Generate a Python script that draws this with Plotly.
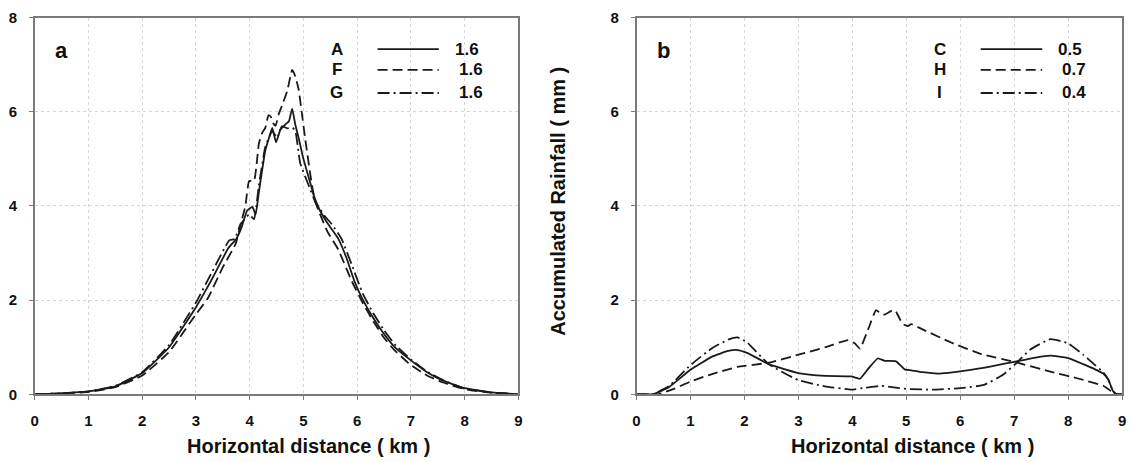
import plotly.graph_objects as go

# ---------------- data ----------------
# Panel a
a_A_x = [0, 0.5, 1.0, 1.5, 2.0, 2.5, 3.0, 3.3, 3.6, 3.75, 3.85, 3.95, 4.05, 4.11, 4.17, 4.23, 4.29, 4.36, 4.42, 4.49,
         4.57, 4.66, 4.73, 4.79, 4.85, 4.91, 5.0, 5.1, 5.2, 5.3, 5.4, 5.5, 5.65, 5.8, 5.95, 6.1, 6.3, 6.5, 6.7, 7.0,
         7.3, 7.6, 8.0, 8.5, 9.0]
a_A_y = [0.0, 0.02, 0.06, 0.17, 0.45, 1.0, 1.85, 2.45, 3.1, 3.3, 3.55, 3.9, 3.98, 3.82, 4.29, 4.75, 5.18, 5.45, 5.66, 5.35,
         5.62, 5.73, 5.8, 6.07, 5.72, 5.45, 5.0, 4.6, 4.2, 3.92, 3.72, 3.55, 3.3, 2.9, 2.4, 2.02, 1.62, 1.28, 1.0, 0.72,
         0.47, 0.29, 0.13, 0.04, 0.0]

a_F_x = [0, 0.5, 1.0, 1.5, 2.0, 2.5, 3.0, 3.22, 3.5, 3.74, 3.83, 3.92, 3.99, 4.08, 4.17, 4.23, 4.29, 4.35, 4.39, 4.44,
         4.48, 4.54, 4.6, 4.7, 4.79, 4.85, 4.91, 5.03, 5.16, 5.22, 5.3, 5.45, 5.65, 5.9, 6.1, 6.3, 6.5, 6.7, 7.0, 7.3,
         7.6, 8.0, 8.5, 9.0]
a_F_y = [0.0, 0.02, 0.05, 0.15, 0.4, 0.9, 1.7, 2.04, 2.7, 3.2, 3.61, 4.0, 4.53, 4.53, 5.32, 5.55, 5.66, 5.93, 5.9, 5.75,
         5.7, 5.95, 6.13, 6.45, 6.89, 6.75, 6.48, 5.45, 4.43, 4.09, 3.85, 3.45, 3.07, 2.4, 1.95, 1.55, 1.2, 0.93, 0.62, 0.4,
         0.25, 0.11, 0.03, 0.0]

a_G_x = [0, 0.5, 1.0, 1.5, 2.0, 2.5, 3.0, 3.3, 3.62, 3.72, 3.83, 3.99, 4.08, 4.17, 4.29, 4.42, 4.51, 4.6, 4.7, 4.8,
         4.85, 4.94, 5.1, 5.22, 5.3, 5.4, 5.53, 5.71, 5.9, 6.1, 6.3, 6.5, 6.7, 7.0, 7.3, 7.6, 8.0, 8.5, 9.0]
a_G_y = [0.0, 0.02, 0.06, 0.18, 0.47, 1.05, 1.95, 2.6, 3.27, 3.3, 3.61, 3.82, 3.72, 4.43, 5.25, 5.59, 5.45, 5.69, 5.65, 5.66,
         5.59, 4.91, 4.43, 4.09, 3.95, 3.78, 3.61, 3.3, 2.75, 2.15, 1.72, 1.36, 1.06, 0.74, 0.48, 0.3, 0.12, 0.04, 0.0]

# Panel b
b_C_x = [0, 0.3, 0.6, 1.0, 1.4, 1.7, 1.87, 2.05, 2.45, 3.0, 3.5, 3.98, 4.14, 4.3, 4.47, 4.6, 4.81, 4.97, 5.09, 5.3,
         5.58, 6.13, 6.6, 7.0, 7.4, 7.67, 8.0, 8.28, 8.5, 8.65, 8.75, 8.83, 8.9, 9.0]
b_C_y = [0, 0, 0.15, 0.52, 0.8, 0.92, 0.94, 0.88, 0.64, 0.45, 0.39, 0.38, 0.33, 0.55, 0.76, 0.71, 0.70, 0.53, 0.51, 0.47,
         0.44, 0.51, 0.6, 0.69, 0.78, 0.82, 0.77, 0.64, 0.53, 0.44, 0.3, 0.07, 0.0, 0.0]

b_H_x = [0, 0.4, 0.7, 1.0, 1.4, 1.87, 2.45, 3.0, 3.5, 3.92, 4.05, 4.14, 4.3, 4.44, 4.52, 4.6, 4.72, 4.79, 4.88, 4.94,
         5.03, 5.09, 5.3, 5.83, 6.4, 7.0, 7.67, 8.2, 8.65, 8.83, 8.9, 9.0]
b_H_y = [0, 0.0, 0.12, 0.27, 0.43, 0.58, 0.67, 0.84, 1.0, 1.15, 1.08, 0.97, 1.4, 1.79, 1.72, 1.69, 1.77, 1.79, 1.6, 1.49,
         1.45, 1.49, 1.38, 1.1, 0.85, 0.69, 0.48, 0.33, 0.18, 0.04, 0.0, 0.0]

b_I_x = [0, 0.3, 0.6, 1.0, 1.4, 1.7, 1.87, 2.05, 2.45, 3.0, 3.49, 3.98, 4.25, 4.53, 4.8, 5.03, 5.52, 6.0, 6.44, 6.8,
         7.0, 7.3, 7.67, 8.0, 8.28, 8.5, 8.65, 8.75, 8.83, 8.9, 9.0]
b_I_y = [0, 0, 0.17, 0.62, 0.98, 1.16, 1.21, 1.1, 0.64, 0.3, 0.17, 0.10, 0.14, 0.18, 0.14, 0.11, 0.10, 0.13, 0.2, 0.42,
         0.62, 0.95, 1.17, 1.08, 0.84, 0.62, 0.47, 0.3, 0.07, 0.0, 0.0]

a_names = ["A", "F", "G"]
a_values = ["1.6", "1.6", "1.6"]
b_names = ["C", "H", "I"]
b_values = ["0.5", "0.7", "0.4"]
panel_labels = ["a", "b"]
x_ticks = [0, 1, 2, 3, 4, 5, 6, 7, 8, 9]
y_ticks = [0, 2, 4, 6, 8]
x_title = "Horizontal distance ( km )"
y_title = "Accumulated Rainfall ( mm )"

# ---------------- styling ----------------
FONT = "Liberation Sans, Arial, Helvetica, sans-serif"
INK = "#1a1a1a"
DASHES = ["solid", "10px,5px", "12px,4px,2px,4px"]
W, H = 1137, 462

fig = go.Figure()

series = [
    ("x", "y", a_A_x, a_A_y, 0), ("x", "y", a_F_x, a_F_y, 1), ("x", "y", a_G_x, a_G_y, 2),
    ("x2", "y2", b_C_x, b_C_y, 0), ("x2", "y2", b_H_x, b_H_y, 1), ("x2", "y2", b_I_x, b_I_y, 2),
]
for xa, ya, xs, ys, k in series:
    fig.add_trace(go.Scatter(x=xs, y=ys, xaxis=xa, yaxis=ya, mode="lines",
                             line=dict(color=INK, width=1.8, dash=DASHES[k], shape="spline", smoothing=0.4),
                             showlegend=False, hoverinfo="skip"))

tickfont = dict(family=FONT, size=15, color="#111")
common = dict(showgrid=True, gridcolor="#d6d6d6", griddash="dot", gridwidth=1,
              showline=True, linecolor="#7a7a7a", linewidth=1.5, mirror=True,
              ticks="outside", ticklen=4, tickcolor="#7a7a7a", tickwidth=1.2,
              tickfont=tickfont, zeroline=False, fixedrange=True)
xt = dict(range=[0, 9], tickmode="array", tickvals=x_ticks, ticktext=[f"<b>{v}</b>" for v in x_ticks],
          ticklabelstandoff=8)
yt = dict(range=[0, 8], tickmode="array", tickvals=y_ticks, ticktext=[f"<b>{v}</b>" for v in y_ticks],
          ticklabelstandoff=9)

ydom = [1 - 400 / H, 1 - 9 / H]
fig.update_layout(
    width=W, height=H, margin=dict(l=0, r=0, t=0, b=0),
    paper_bgcolor="white", plot_bgcolor="white", showlegend=False,
    xaxis=dict(domain=[31 / W, 518 / W], anchor="y", **xt, **common),
    yaxis=dict(domain=ydom, anchor="x", **yt, **common),
    xaxis2=dict(domain=[637 / W, 1126 / W], anchor="y2", **xt, **common),
    yaxis2=dict(domain=ydom, anchor="x2", **yt, **common),
)

# ---------------- legends drawn inside each panel ----------------
legend_rows_y = [7.33, 6.89, 6.40]
lab_font = dict(family=FONT, size=17, color="#111", weight="bold")
for (xr, yr, names, values) in [("x", "y", a_names, a_values), ("x2", "y2", b_names, b_values)]:
    for k, (nm, val, yy) in enumerate(zip(names, values, legend_rows_y)):
        fig.add_annotation(x=5.62, y=yy, xref=xr, yref=yr, text=f"<b>{nm}</b>", showarrow=False,
                           xanchor="center", yanchor="middle", font=lab_font)
        fig.add_shape(type="line", x0=6.38, x1=7.52, y0=yy, y1=yy, xref=xr, yref=yr,
                      line=dict(color=INK, width=1.8, dash=DASHES[k]))
        fig.add_annotation(x=7.78 + (0.07 if k > 0 else 0), y=yy, xref=xr, yref=yr, text=f"<b>{val}</b>",
                           showarrow=False, xanchor="left", yanchor="middle", font=lab_font)

# panel letters
for (xr, yr, lab) in [("x", "y", panel_labels[0]), ("x2", "y2", panel_labels[1])]:
    fig.add_annotation(x=0.5, y=7.3, xref=xr, yref=yr, text=f"<b>{lab}</b>", showarrow=False,
                       xanchor="center", yanchor="middle",
                       font=dict(family=FONT, size=22, color="#111"))

# axis titles (placed low, as in the reference, but kept inside the page)
title_font = dict(family=FONT, size=20, color="#111")
for cx in [307, 915]:
    fig.add_annotation(x=cx / W, y=0.0, xref="paper", yref="paper", text=f"<b>{x_title}</b>",
                       showarrow=False, xanchor="center", yanchor="bottom", yshift=-5, font=title_font)
fig.add_annotation(x=558 / W, y=1 - 200 / H, xref="paper", yref="paper", text=f"<b>{y_title}</b>",
                   showarrow=False, textangle=-90, xanchor="center", yanchor="middle", font=title_font)

fig.write_html("out.html")
